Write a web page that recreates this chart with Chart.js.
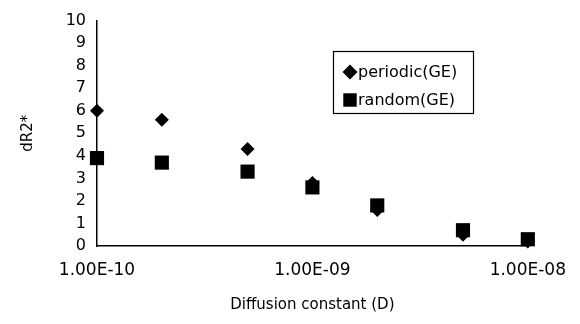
<!DOCTYPE html>
<html>
<head>
<meta charset="utf-8">
<script src="https://cdn.jsdelivr.net/npm/chart.js@4/dist/chart.umd.min.js"></script>
<style>
  html, body { margin: 0; padding: 0; background: #fff; }
  #wrap { width: 580px; height: 324px; }
</style>
</head>
<body>
<div id="wrap"><canvas id="DiffChart"></canvas></div>
<script>
// values
var diffusion = [1e-10, 2e-10, 5e-10, 1e-9, 2e-9, 5e-9, 1e-8];
var periodic = [6.0, 5.6, 4.3, 2.8, 1.6, 0.5, 0.2];
var random = [3.9, 3.7, 3.3, 2.6, 1.8, 0.7, 0.3];
var xTicks = [1e-10, 1e-9, 1e-8];
var xTickLabels = ["1.00E-10", "1.00E-09", "1.00E-08"];
var yTicks = [0, 1, 2, 3, 4, 5, 6, 7, 8, 9, 10];

function pts(ys) {
	return diffusion.map(function(x, i){ return {x: x, y: ys[i]}; });
}

var font = "'DejaVu Sans', Verdana, sans-serif";

// legend drawn as a framed box inside the plot
var boxLegend = {
	id: "boxLegend",
	afterDraw: function(chart) {
		var ctx = chart.ctx;
		ctx.save();
		ctx.strokeStyle = "#000";
		ctx.lineWidth = 1.2;
		ctx.strokeRect(333.5, 51.5, 140, 62);
		ctx.font = "16px " + font;
		ctx.fillStyle = "#000";
		ctx.textBaseline = "middle";
		chart.data.datasets.forEach(function(ds, i){
			var y = 72 + i * 28;
			Chart.helpers.drawPoint(ctx, {
				pointStyle: ds.pointStyle,
				radius: ds.pointStyle === "rect" ? 9.5 : 7.5,
				rotation: 0,
				borderWidth: 0
			}, 350, y);
			ctx.fillStyle = "#000";
			ctx.fillText(ds.label, 358, y + 1);
		});
		ctx.restore();
	}
};

new Chart(document.getElementById("DiffChart").getContext("2d"), {
	type: "scatter",
	data: {
		datasets: [{
			label: "periodic(GE)",
			data: pts(periodic),
			pointStyle: "rectRot",
			pointRadius: 7,
			pointHoverRadius: 7,
			backgroundColor: "#000",
			borderColor: "#000",
			borderWidth: 0,
			clip: false
		}, {
			label: "random(GE)",
			data: pts(random),
			pointStyle: "rect",
			pointRadius: 10,
			pointHoverRadius: 10,
			backgroundColor: "#000",
			borderColor: "#000",
			borderWidth: 0,
			clip: false
		}]
	},
	options: {
		responsive: true,
		maintainAspectRatio: false,
		animation: false,
		layout: { padding: { left: 0, right: 44, top: 17, bottom: 0 } },
		plugins: {
			legend: { display: false },
			tooltip: { enabled: false }
		},
		scales: {
			x: {
				type: "logarithmic",
				min: 1e-10,
				max: 1e-8,
				afterBuildTicks: function(scale){
					scale.ticks = xTicks.map(function(v){ return {value: v}; });
				},
				afterFit: function(scale){ scale.height = 78; },
				grid: { display: false, drawTicks: false },
				border: { display: true, color: "#000", width: 1.5 },
				ticks: {
					color: "#000",
					padding: 14,
					maxRotation: 0,
					autoSkip: false,
					font: { family: font, size: 17 },
					callback: function(v){
						var i = xTicks.indexOf(v);
						return i < 0 ? "" : xTickLabels[i];
					}
				},
				title: {
					display: true,
					text: "Diffusion constant (D)",
					color: "#000",
					font: { family: font, size: 15 },
					padding: { top: 0, bottom: 10 }
				}
			},
			y: {
				min: 0,
				max: 10,
				afterBuildTicks: function(scale){
					scale.ticks = yTicks.map(function(v){ return {value: v}; });
				},
				afterFit: function(scale){ scale.width = 97; },
				grid: { display: false, drawTicks: false },
				border: { display: true, color: "#000", width: 1.5 },
				ticks: {
					color: "#000",
					padding: 11,
					font: { family: font, size: 16 }
				},
				title: {
					display: true,
					text: "dR2*",
					color: "#000",
					font: { family: font, size: 15 },
					padding: { top: 19, bottom: 0 }
				}
			}
		}
	},
	plugins: [boxLegend]
});
</script>
</body>
</html>
